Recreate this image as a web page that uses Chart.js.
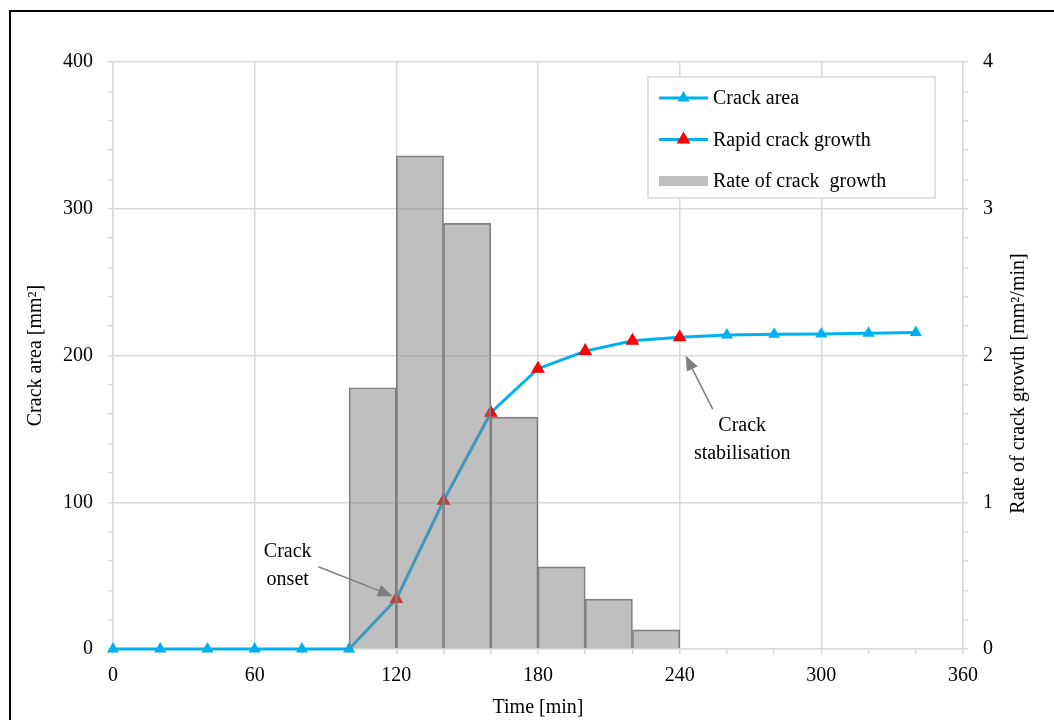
<!DOCTYPE html>
<html>
<head>
<meta charset="utf-8">
<script src="https://cdn.jsdelivr.net/npm/chart.js@4.4.0/dist/chart.umd.min.js"></script>
<style>
  html, body { margin: 0; padding: 0; background: #fff; }
  #wrap { position: relative; width: 1054px; height: 720px; }
</style>
</head>
<body>
<div id="wrap"><canvas id="crackChart"></canvas></div>
<script>
// crack area readings, every 20 min
const times = [0, 20, 40, 60, 80, 100, 120, 140, 160, 180, 200, 220, 240, 260, 280, 300, 320, 340];
const crackArea = [0, 0, 0, 0, 0, 0, 34, 101, 161, 191, 203, 210, 212.5, 214, 214.5, 214.7, 215.2, 215.6];

// readings flagged as rapid growth (red markers)
const rapidTimes = [120, 140, 160, 180, 200, 220, 240];

// rate of crack growth, 20 min bins
const binStart = [100, 120, 140, 160, 180, 200, 220];
const binWidth = 20;
const growthRate = [1.78, 3.36, 2.90, 1.58, 0.56, 0.34, 0.13];

const BLUE = "#00b0f0";
const RED = "#ff0000";
const GRID = "#d9d9d9";

Chart.defaults.font.family = "'Liberation Serif', 'Times New Roman', serif";
Chart.defaults.font.size = 20;
Chart.defaults.color = "#000";

const areaPoints = times.map((t, i) => ({ x: t, y: crackArea[i] }));
const rapidPoints = rapidTimes.map(t => ({ x: t, y: crackArea[times.indexOf(t)] }));
const ratePoints = binStart.map((t, i) => ({ x: t + binWidth / 2, y: growthRate[i] }));

// text callouts, positions in data units
const notes = [
    { lines: ["Crack", "onset"], text: [74, 66], from: [87, 56], to: [118.5, 36] },
    { lines: ["Crack", "stabilisation"], text: [266.5, 152], from: [254, 163.5], to: [242.5, 200] }
];

const legendItems = [
    { label: "Crack area", kind: "line", marker: BLUE },
    { label: "Rapid crack growth", kind: "line", marker: RED },
    { label: "Rate of crack  growth", kind: "bar" }
];

function drawArrow(ctx, x1, y1, x2, y2) {
    const ang = Math.atan2(y2 - y1, x2 - x1);
    const headLen = 15, headHalf = 6;
    const bx = x2 - Math.cos(ang) * headLen, by = y2 - Math.sin(ang) * headLen;
    ctx.strokeStyle = "#7f7f7f";
    ctx.fillStyle = "#7f7f7f";
    ctx.lineWidth = 1.5;
    ctx.beginPath();
    ctx.moveTo(x1, y1);
    ctx.lineTo(bx, by);
    ctx.stroke();
    ctx.beginPath();
    ctx.moveTo(x2, y2);
    ctx.lineTo(bx + Math.sin(ang) * headHalf, by - Math.cos(ang) * headHalf);
    ctx.lineTo(bx - Math.sin(ang) * headHalf, by + Math.cos(ang) * headHalf);
    ctx.closePath();
    ctx.fill();
}

const framePlugin = {
    id: "frame",
    beforeDraw(chart) {
        const ctx = chart.ctx;
        ctx.save();
        ctx.fillStyle = "#fff";
        ctx.fillRect(0, 0, chart.width, chart.height);
        ctx.strokeStyle = "#000";
        ctx.lineWidth = 2;
        ctx.strokeRect(10, 11, chart.width + 40, chart.height + 40);
        ctx.restore();
    }
};

const notesPlugin = {
    id: "notes",
    afterDatasetsDraw(chart) {
        const { ctx, scales } = chart;
        const sx = scales.x, sy = scales.y;
        ctx.save();
        notes.forEach(n => {
            drawArrow(ctx,
                sx.getPixelForValue(n.from[0]), sy.getPixelForValue(n.from[1]),
                sx.getPixelForValue(n.to[0]), sy.getPixelForValue(n.to[1]));
            ctx.fillStyle = "#000";
            ctx.textAlign = "center";
            ctx.textBaseline = "middle";
            ctx.font = "20px 'Liberation Serif', serif";
            const tx = sx.getPixelForValue(n.text[0]);
            const ty = sy.getPixelForValue(n.text[1]);
            n.lines.forEach((line, i) => ctx.fillText(line, tx, ty + i * 28));
        });
        // right axis title
        const area = chart.chartArea;
        ctx.translate(1019, (area.top + area.bottom) / 2 + 28);
        ctx.rotate(-Math.PI / 2);
        ctx.fillText("Rate of crack growth [mm\u00b2/min]", 0, 0);
        ctx.restore();
    }
};

const legendPlugin = {
    id: "boxLegend",
    afterDraw(chart) {
        const { ctx, chartArea } = chart;
        const w = 287, h = 121;
        const x0 = chartArea.right - 28 - w, y0 = chartArea.top + 15;
        ctx.save();
        ctx.fillStyle = "#fff";
        ctx.fillRect(x0, y0, w, h);
        ctx.strokeStyle = GRID;
        ctx.lineWidth = 1.5;
        ctx.strokeRect(x0, y0, w, h);
        ctx.font = "20px 'Liberation Serif', serif";
        ctx.textBaseline = "middle";
        legendItems.forEach((it, i) => {
            const cy = y0 + 21 + i * 41.5;
            if (it.kind === "line") {
                ctx.strokeStyle = BLUE;
                ctx.lineWidth = 3;
                ctx.beginPath();
                ctx.moveTo(x0 + 11, cy);
                ctx.lineTo(x0 + 60, cy);
                ctx.stroke();
                ctx.fillStyle = it.marker;
                Chart.helpers.drawPoint(ctx, { pointStyle: "triangle", radius: it.marker === RED ? 8 : 7, rotation: 0, borderWidth: 0 }, x0 + 35.5, cy);
            } else {
                ctx.fillStyle = "#bfbfbf";
                ctx.fillRect(x0 + 11, cy - 5, 49, 10);
            }
            ctx.fillStyle = "#000";
            ctx.fillText(it.label, x0 + 65, cy + 1);
        });
        ctx.restore();
    }
};

const minorGrid = step => ctx => (ctx.tick && Math.abs(ctx.tick.value % step) < 1e-6) ? GRID : "rgba(0,0,0,0)";

const ctx = document.getElementById("crackChart").getContext("2d");
new Chart(ctx, {
    type: "bar",
    data: {
        datasets: [
            {
                type: "bar",
                label: "Rate of crack growth",
                data: ratePoints,
                yAxisID: "y1",
                backgroundColor: "rgba(128,128,128,0.5)",
                borderColor: "#7f7f7f",
                borderWidth: 1,
                barPercentage: 1,
                categoryPercentage: 1,
                order: 0
            },
            {
                type: "line",
                label: "Rapid crack growth",
                data: rapidPoints,
                yAxisID: "y",
                showLine: false,
                clip: false,
                pointStyle: "triangle",
                pointRadius: 8,
                pointBackgroundColor: RED,
                pointBorderWidth: 0,
                order: 1
            },
            {
                type: "line",
                label: "Crack area",
                data: areaPoints,
                yAxisID: "y",
                clip: false,
                borderColor: BLUE,
                borderWidth: 3,
                tension: 0,
                pointStyle: "triangle",
                pointRadius: 7,
                pointBackgroundColor: BLUE,
                pointBorderWidth: 0,
                order: 2
            }
        ]
    },
    options: {
        responsive: true,
        maintainAspectRatio: false,
        animation: false,
        layout: { padding: { top: 62, left: 0, right: 0, bottom: 0 } },
        plugins: {
            legend: { display: false },
            tooltip: { enabled: false }
        },
        scales: {
            x: {
                type: "linear",
                min: 0,
                max: 360,
                offset: false,
                afterFit: s => { s.height = 71; },
                ticks: {
                    stepSize: 20,
                    autoSkip: false,
                    maxRotation: 0,
                    padding: 10,
                    callback: v => (v % 60 === 0 ? v : "")
                },
                grid: { offset: false, color: minorGrid(60), tickColor: GRID, tickLength: 5, lineWidth: 1.5 },
                border: { color: GRID, width: 1.5 },
                title: { display: true, text: "Time [min]", padding: { top: 0, bottom: 0 } }
            },
            y: {
                position: "left",
                min: 0,
                max: 400,
                afterFit: s => { s.width = 113; },
                ticks: {
                    stepSize: 20,
                    autoSkip: false,
                    padding: 15,
                    callback: v => (v % 100 === 0 ? v : "")
                },
                grid: { color: minorGrid(100), tickColor: GRID, tickLength: 5, lineWidth: 1.5 },
                border: { color: GRID, width: 1.5 },
                title: { display: true, text: "Crack area [mm\u00b2]", padding: { top: 24, bottom: 0 } }
            },
            y1: {
                position: "right",
                min: 0,
                max: 4,
                afterFit: s => { s.width = 91; },
                ticks: {
                    stepSize: 0.2,
                    autoSkip: false,
                    padding: 15,
                    callback: v => (Math.abs(v - Math.round(v)) < 1e-6 ? Math.round(v) : "")
                },
                grid: { drawOnChartArea: false, tickColor: GRID, tickLength: 5, lineWidth: 1.5 },
                border: { color: GRID, width: 1.5 },
                title: { display: false }
            }
        }
    },
    plugins: [framePlugin, notesPlugin, legendPlugin]
});
</script>
</body>
</html>
